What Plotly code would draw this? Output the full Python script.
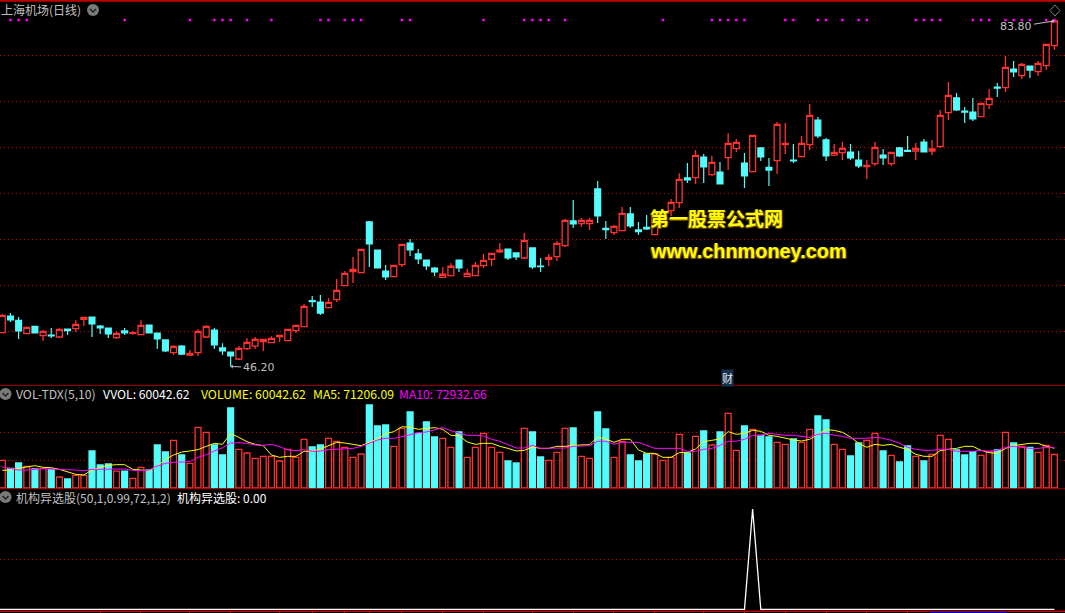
import plotly.graph_objects as go

W, H = 1065, 613

OPENS = [49.89,51.70,51.23,49.78,50.57,49.56,49.63,49.41,50.28,50.32,51.34,51.59,50.61,50.39,49.34,50.07,49.81,49.67,50.72,49.85,
49.09,47.71,48.43,47.45,47.71,49.41,50.17,48.22,47.78,47.02,48.14,48.43,48.91,48.80,49.45,49.01,50.10,50.54,53.37,53.22,
52.60,53.48,55.00,56.52,56.41,61.93,58.88,56.59,55.98,57.28,59.64,58.45,57.79,56.92,55.91,56.09,57.79,55.98,56.09,57.18,
57.87,58.67,58.99,58.56,58.01,59.10,57.14,57.87,58.16,59.35,62.04,61.75,61.75,65.52,61.24,60.77,60.99,62.80,61.06,61.35,
60.55,62.25,63.16,64.03,66.72,66.75,69.00,67.07,67.36,68.92,69.90,68.34,67.40,69.98,67.87,68.60,70.34,68.67,69.03,70.34,
73.02,70.85,69.21,69.47,69.54,68.67,67.94,68.27,69.21,68.27,69.98,69.72,69.65,70.63,69.65,70.12,73.82,75.42,74.00,73.89,
73.39,74.69,76.61,76.54,78.57,77.85,78.90,78.28,78.93,81.11]
HIGHS = [51.88,52.02,51.59,50.46,50.57,50.17,50.39,50.36,50.28,51.23,51.55,51.59,50.72,50.39,50.03,50.39,50.07,51.23,50.72,49.85,
49.09,48.51,48.54,48.00,50.25,50.68,50.39,48.72,47.78,48.43,49.27,49.41,49.16,49.49,49.59,50.25,50.68,53.00,53.87,53.98,
53.66,55.72,56.59,58.12,58.95,62.04,58.88,57.24,57.21,59.50,60.08,58.99,57.79,57.03,57.03,57.43,57.79,56.81,57.57,58.45,
58.52,59.64,58.99,58.56,60.73,59.10,58.01,58.45,59.86,62.26,64.32,62.36,62.36,66.39,62.04,61.60,63.56,63.56,61.93,62.69,
62.58,63.34,64.43,67.22,68.35,69.76,69.33,69.11,68.45,71.57,70.96,69.43,71.35,69.98,68.89,72.81,72.70,70.41,71.28,74.76,
73.35,71.06,70.41,70.63,70.41,69.65,68.67,70.63,69.87,69.50,70.09,71.28,70.52,70.96,70.85,74.11,77.16,75.96,74.44,75.42,
74.84,76.40,77.05,79.99,79.44,79.22,78.90,79.44,81.26,83.80]
LOWS = [49.89,51.05,49.20,49.78,49.85,48.98,49.30,49.30,49.63,49.99,50.61,49.41,49.74,49.30,49.20,49.63,49.63,49.67,49.85,48.11,
47.78,47.45,47.45,47.35,47.35,49.30,48.11,47.45,46.20,46.91,48.00,48.11,47.89,48.76,48.87,49.01,49.85,50.54,52.68,51.81,
52.60,53.22,55.00,55.29,56.41,57.03,56.92,55.62,55.98,57.03,58.23,57.36,56.71,56.05,55.91,56.09,56.49,55.98,56.09,56.92,
57.14,58.56,57.79,57.79,57.90,56.81,56.49,57.14,57.69,59.21,61.28,61.39,61.06,61.82,60.08,60.52,60.99,61.28,60.52,61.06,
60.55,61.71,62.58,63.45,66.17,66.06,66.17,66.97,66.06,67.58,69.54,65.62,67.40,68.56,65.84,67.15,69.32,68.34,69.03,69.76,
71.06,68.56,69.11,68.67,68.67,67.80,66.60,68.02,68.13,68.02,69.00,69.54,68.67,69.54,69.21,69.98,73.02,74.00,72.70,72.91,
73.39,74.22,75.53,76.07,77.70,77.48,77.59,77.81,78.46,80.64]
CLOSES = [51.77,51.26,50.07,50.46,49.85,50.03,49.52,50.25,50.10,50.79,51.55,50.83,50.39,49.74,49.81,49.85,49.88,50.68,49.85,49.20,
47.89,48.40,47.56,47.64,50.03,50.57,48.54,47.89,47.35,48.18,48.83,49.16,49.16,49.27,49.59,50.25,50.68,52.75,53.26,52.02,
53.19,54.49,56.34,56.78,58.95,59.53,56.92,55.94,57.21,59.50,58.88,57.90,57.14,56.49,56.24,57.11,56.92,56.34,57.21,57.76,
58.52,58.85,58.01,58.12,59.93,57.03,57.07,58.08,59.61,62.11,61.71,62.11,62.11,62.58,61.10,61.46,62.87,61.49,60.88,61.17,
62.58,62.91,64.07,66.57,66.50,69.18,67.91,68.42,66.06,70.48,70.59,66.93,71.35,69.00,67.58,72.55,70.48,68.56,70.48,73.53,
71.28,69.11,69.50,69.94,68.89,68.02,68.09,70.05,68.89,69.50,69.11,69.61,69.94,69.54,69.87,73.53,75.71,74.11,73.89,73.13,
74.84,75.38,76.50,78.75,78.25,79.08,78.46,79.19,81.26,83.80]
VOLUMES = [49600,35200,44800,38800,34000,35200,33400,19700,16100,22700,22700,66300,41200,43000,30400,30400,17300,37000,32200,77000,
64500,85400,59100,44200,108700,99700,77000,59100,143300,69300,62700,53100,56700,56700,48400,69300,54900,87200,73400,77000,
89000,83600,72800,54900,60900,148700,111000,112800,74600,106900,136100,97900,118200,91300,89000,72800,100300,54900,72800,97900,
72800,63900,48400,44800,106900,100300,55500,49600,63900,106900,107500,56700,53100,136100,105700,54900,83600,59100,48400,60900,
60900,49600,54900,96100,62700,92500,102100,77000,100300,133700,67500,111000,105100,94300,91300,81800,78200,87800,81800,105100,
129000,121800,78200,69300,57300,80600,85400,97900,66300,58500,46600,75200,56700,48400,60300,94300,87200,68100,59100,65100,
58500,65700,68100,99700,80600,74600,72800,63900,76400,60042]
MA5 = [31600,32200,35200,38200,40000,37000,36400,33400,29300,24500,23300,32200,37000,40600,41800,41800,33400,32200,31000,39400,
51300,59100,64500,66300,68700,74600,80000,78200,97900,90700,83000,78200,75800,59100,54900,56700,56700,65700,65700,69800,
75200,81800,80600,78200,75800,81800,87800,97300,100900,109800,108700,105100,106900,108100,105100,94300,93700,82400,78200,80000,
80000,74600,71000,66300,67500,73400,71000,71000,74600,74600,76400,76400,77600,91300,87800,81800,87200,87200,68100,62100,
62100,54900,54900,63300,63900,69800,83000,85400,87800,100900,96100,97900,103300,101500,94300,92500,89000,86000,84200,87200,
96100,104500,103300,99700,91300,80000,72800,78200,76400,78200,72800,69300,60300,56700,56700,66900,69300,71000,74600,74600,
67500,63300,62100,71000,75800,78200,80000,80000,74600,71206]
MA10 = [37600,35200,32200,32200,33400,34600,34000,34000,32800,32200,31000,33400,34000,34000,34000,34000,31600,31000,32200,39400,
44200,46000,47200,47200,54900,59700,66300,72200,80600,81200,80000,77000,76400,78200,74000,68100,66900,68700,65700,66300,
68700,69800,71000,71000,74600,80000,86000,89000,89000,91900,96100,99100,100300,104500,108100,102700,99100,94300,94300,93100,
87200,83600,77600,71600,71600,76400,71000,71000,71000,71600,74600,74600,75800,83600,83600,78200,81800,81800,81800,76400,
71000,71000,71000,71000,65700,65700,69300,71000,76400,83600,83600,87200,94300,94300,97900,96100,94300,94300,92500,90700,
96100,97900,94300,92500,89000,89000,89000,90700,89000,85400,80000,72800,69300,67500,67500,69300,69300,65700,65700,65700,
67500,65700,67500,72800,74600,72800,71000,71000,72800,72932]
SIGNAL = [0]*92 + [1] + [0]*37
DOT_IDX = [1,2,3,15,23,26,27,28,30,33,39,40,42,43,44,49,50,59,64,65,66,67,69,81,
           87,88,89,90,91,96,97,100,101,103,105,106,112,113,114,115,119,120,121,123,124,125,126,128,129]
DOT_LEVEL = 83.9
MONTH_TICKS = [12,17,23,28,34,38,42,45,49,54,59,65,70,75,80,86,91,96,101,106,111]
PRICE_TICKS = [50,55,60,65,70,75,80]
VOL_TICKS = [50000,100000]

RED, CYAN, YEL, MAG = "#ff3232", "#54fcfc", "#ffff00", "#ff00ff"
GRID, SEP, GREY = "#d00000", "#a00000", "#c0c0c0"
CJK = "Noto Sans CJK SC"
xs = list(range(len(CLOSES)))

def py(p):
    return 1 - p / H
def px(p):
    return p / W

fig = go.Figure()
fig.add_trace(go.Candlestick(x=xs, open=OPENS, high=HIGHS, low=LOWS, close=CLOSES, xaxis="x", yaxis="y",
    increasing=dict(line=dict(color=RED, width=1.3), fillcolor="#000000"),
    decreasing=dict(line=dict(color=CYAN, width=1.2), fillcolor=CYAN),
    whiskerwidth=0, hoverinfo="skip", showlegend=False))
fig.add_trace(go.Scatter(x=DOT_IDX, y=[DOT_LEVEL]*len(DOT_IDX), mode="markers", yaxis="y",
    marker=dict(symbol="square", size=2.5, color=MAG, line=dict(width=0)), hoverinfo="skip", showlegend=False))
up = [c >= o for o, c in zip(OPENS, CLOSES)]
fig.add_trace(go.Bar(x=xs, y=VOLUMES, yaxis="y2", width=0.72,
    marker=dict(color=["#000000" if u else CYAN for u in up],
                line=dict(color=[RED if u else CYAN for u in up], width=1.3)),
    hoverinfo="skip", showlegend=False))
fig.add_trace(go.Scatter(x=xs, y=MA5, mode="lines", yaxis="y2", line=dict(color=YEL, width=1), hoverinfo="skip", showlegend=False))
fig.add_trace(go.Scatter(x=xs, y=MA10, mode="lines", yaxis="y2", line=dict(color=MAG, width=1), hoverinfo="skip", showlegend=False))
fig.add_trace(go.Scatter(x=[-1] + xs, y=[0] + SIGNAL, mode="lines", yaxis="y3", line=dict(color="#ffffff", width=1.3), hoverinfo="skip", showlegend=False))

shapes = []
for y, c, w in [(0.8, "#c00000", 2), (385.3, SEP, 1), (488.7, SEP, 1), (611.3, "#c00000", 1.5)]:
    shapes.append(dict(type="line", xref="paper", yref="paper", x0=0, x1=1, y0=py(y), y1=py(y), line=dict(color=c, width=w)))
shapes.append(dict(type="line", xref="paper", yref="paper", x0=px(930), x1=px(1007), y0=py(612.4), y1=py(612.4), line=dict(color="#0000c0", width=1.5)))
for cx, cy in [(93, 10), (5.5, 394), (5.5, 497)]:
    shapes.append(dict(type="circle", xref="paper", yref="paper", x0=px(cx-6), x1=px(cx+6), y0=py(cy-6), y1=py(cy+6),
                       fillcolor="#7a7a7a", line=dict(width=0)))
    shapes.append(dict(type="path", xref="paper", yref="paper",
        path=f"M {px(cx-3)} {py(cy-1)} L {px(cx)} {py(cy+2)} L {px(cx+3)} {py(cy-1)}",
        line=dict(color="#222222", width=1.5)))
shapes.append(dict(type="path", xref="paper", yref="paper",
    path=f"M {px(1055)} {py(5)} L {px(1060)} {py(10.5)} L {px(1055)} {py(16)} L {px(1050)} {py(10.5)} Z",
    line=dict(color="#808080", width=1)))

def label(x, y, text, color, size=12.2, **kw):
    return dict(xref="paper", yref="paper", x=px(x), y=py(y), text=text, showarrow=False, xanchor="left", yanchor="middle",
                font=dict(family=CJK, size=size, color=color), borderpad=0, **kw)

shadow = "1px 1px 1px #7a5000, -1px 1px 1px #7a5000"
annotations = [
    label(0, 10, "上海机场(日线)", GREY, size=12),
    label(15, 394, "VOL-TDX(5,10)", GREY),
    label(102, 394, "VVOL: 60042.62", "#ffffff"),
    label(200, 394, "VOLUME: 60042.62", YEL),
    label(312, 394, "MA5: 71206.09", YEL),
    label(398, 394, "MA10: 72932.66", MAG),
    label(15, 497, "机构异选股(50,1,0.99,72,1,2)", GREY, size=12),
    label(176, 497, "机构异选股: 0.00", "#ffffff", size=12),
    dict(xref="paper", yref="paper", x=px(648), y=py(217), text="<b>第一股票公式网</b>", showarrow=False, xanchor="left", yanchor="middle",
         font=dict(family=CJK, size=19, color=YEL, shadow=shadow)),
    dict(xref="paper", yref="paper", x=px(648), y=py(251), text="<b>www.chnmoney.com</b>", showarrow=False, xanchor="left", yanchor="middle",
         font=dict(family="Liberation Sans", size=19.9, color=YEL, shadow=shadow)),
    dict(xref="paper", yref="paper", x=px(727.5), y=py(378), text="财", showarrow=False, xanchor="center", yanchor="middle",
         font=dict(family=CJK, size=11, color="#e8e8e8"), bgcolor="#14304c", borderpad=0),
    dict(x=28, y=LOWS[28], xref="x", yref="y", text="46.20", ax=28, ay=1, showarrow=True, arrowhead=1, arrowsize=0.7, arrowwidth=1,
         arrowcolor=GREY, font=dict(family="DejaVu Sans", size=11, color=GREY)),
    dict(x=129, y=HIGHS[129], xref="x", yref="y", text="83.80", ax=-38, ay=6, showarrow=True, arrowhead=1, arrowsize=0.7, arrowwidth=1,
         arrowcolor=GREY, font=dict(family="DejaVu Sans", size=11, color=GREY)),
]

def yaxis(dom_top, dom_bot, lo, hi, ticks):
    return dict(domain=[py(dom_bot), py(dom_top)], range=[lo, hi], fixedrange=True, zeroline=False, showline=False,
                tickmode="array", tickvals=ticks, showticklabels=False, ticks="",
                showgrid=True, gridcolor=GRID, griddash="1px 3px", gridwidth=1)

fig.update_layout(
    width=W, height=H, margin=dict(l=0, r=0, t=0, b=0, pad=0),
    paper_bgcolor="#000000", plot_bgcolor="#000000",
    showlegend=False, hovermode=False, barmode="overlay", boxgap=0.28, boxgroupgap=0,
    xaxis=dict(domain=[0, 1], range=[-0.282, 130.3], anchor="y3", fixedrange=True, rangeslider=dict(visible=False),
               showgrid=False, zeroline=False, showline=False, showticklabels=False,
               tickmode="array", tickvals=MONTH_TICKS, ticks="outside", ticklen=1.5, tickwidth=1, tickcolor="#d00000"),
    yaxis=yaxis(0, 385, 44.19, 86.08, PRICE_TICKS),
    yaxis2=yaxis(385, 489, -1791, 184473, VOL_TICKS),
    yaxis3=yaxis(489, 611, -0.017, 1.199, [0.5]),
    shapes=shapes, annotations=annotations,
    font=dict(family=CJK),
)
fig.write_html("out.html", config=dict(displayModeBar=False, staticPlot=True),
               post_script="document.body.style.margin='0';document.body.style.background='#000';document.body.style.overflow='hidden';")
